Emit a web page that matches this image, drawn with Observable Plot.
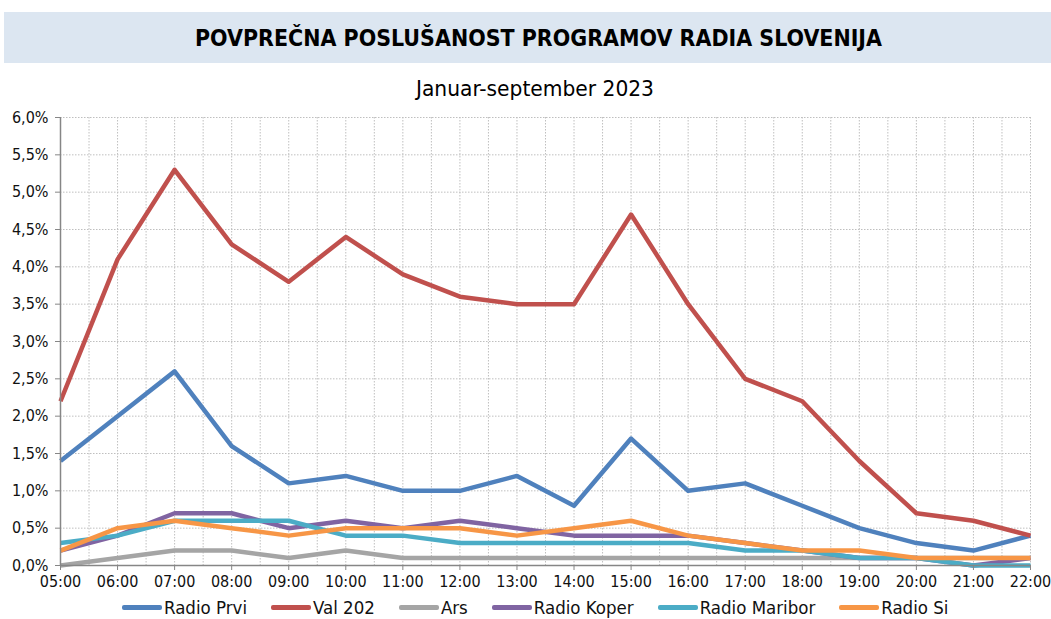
<!DOCTYPE html>
<html>
<head>
<meta charset="utf-8">
<script src="https://cdn.jsdelivr.net/npm/d3@7"></script>
<script src="https://cdn.jsdelivr.net/npm/@observablehq/plot@0.6"></script>
<style>
  body { margin: 0; background: #fff; font-family: "DejaVu Sans Condensed", "DejaVu Sans", sans-serif; color: #111; }
  #wrap { position: relative; width: 1051px; height: 619px; overflow: hidden; }
  #band { position: absolute; left: 4px; top: 12px; width: 1047px; height: 51px; background: #dce6f1; }
  .fit { position: absolute; white-space: nowrap; transform-origin: 0 50%; }
  #title { font-weight: bold; font-size: 23px; color: #000; }
  #subtitle { font-size: 21.5px; color: #000; }
  #chart { position: absolute; left: 0; top: 100px; }
  #legend { position: absolute; left: 122px; top: 597px; display: flex; align-items: center; font-size: 18.5px; color: #111; }
  .item { display: flex; align-items: center; }
  .sw { width: 40px; height: 4.5px; border-radius: 2px; margin-right: 2px; }
</style>
</head>
<body>
<div id="wrap">
  <div id="band"></div>
  <div id="title" class="fit">POVPREČNA POSLUŠANOST PROGRAMOV RADIA SLOVENIJA</div>
  <div id="subtitle" class="fit">Januar-september 2023</div>
  <div id="chart"></div>
  <div id="legend"></div>
</div>
<script>
const hours = [5, 6, 7, 8, 9, 10, 11, 12, 13, 14, 15, 16, 17, 18, 19, 20, 21, 22];
const seriesNames = ["Radio Prvi", "Val 202", "Ars", "Radio Koper", "Radio Maribor", "Radio Si"];
const seriesColors = ["#4f81bd", "#c0504d", "#a5a5a5", "#8064a2", "#4bacc6", "#f79646"];

const radioPrvi   = [1.4, 2.0, 2.6, 1.6, 1.1, 1.2, 1.0, 1.0, 1.2, 0.8, 1.7, 1.0, 1.1, 0.8, 0.5, 0.3, 0.2, 0.4];
const val202      = [2.2, 4.1, 5.3, 4.3, 3.8, 4.4, 3.9, 3.6, 3.5, 3.5, 4.7, 3.5, 2.5, 2.2, 1.4, 0.7, 0.6, 0.4];
const ars         = [0.0, 0.1, 0.2, 0.2, 0.1, 0.2, 0.1, 0.1, 0.1, 0.1, 0.1, 0.1, 0.1, 0.1, 0.1, 0.1, 0.1, 0.1];
const radioKoper  = [0.2, 0.4, 0.7, 0.7, 0.5, 0.6, 0.5, 0.6, 0.5, 0.4, 0.4, 0.4, 0.3, 0.2, 0.1, 0.1, 0.0, 0.1];
const radioMaribor= [0.3, 0.4, 0.6, 0.6, 0.6, 0.4, 0.4, 0.3, 0.3, 0.3, 0.3, 0.3, 0.2, 0.2, 0.1, 0.1, 0.0, 0.0];
const radioSi     = [0.2, 0.5, 0.6, 0.5, 0.4, 0.5, 0.5, 0.5, 0.4, 0.5, 0.6, 0.4, 0.3, 0.2, 0.2, 0.1, 0.1, 0.1];

const yTicks = [0, 0.5, 1, 1.5, 2, 2.5, 3, 3.5, 4, 4.5, 5, 5.5, 6];
const xGridHalf = d3.range(5, 22.01, 0.5);

const seriesValues = [radioPrvi, val202, ars, radioKoper, radioMaribor, radioSi];
const data = [];
seriesNames.forEach((name, i) => {
  hours.forEach((h, j) => data.push({series: name, hour: h, value: seriesValues[i][j]}));
});

const fmtHour = h => String(h).padStart(2, "0") + ":00";
const fmtPct = v => v.toFixed(1).replace(".", ",") + "%";
const axisColor = "#868686";
const gridStyle = {stroke: "#bfbfbf", strokeOpacity: 1, strokeDasharray: "1.5,1.5", strokeWidth: 1};

const chart = Plot.plot({
  width: 1051,
  height: 490,
  marginLeft: 60,
  marginRight: 21,
  marginTop: 17,
  marginBottom: 25,
  style: {fontFamily: '"DejaVu Sans Condensed", "DejaVu Sans", sans-serif', fontSize: "16px", color: "#111", background: "transparent"},
  x: {domain: [5, 22]},
  y: {domain: [0, 6]},
  color: {domain: seriesNames, range: seriesColors},
  marks: [
    Plot.gridX(xGridHalf, gridStyle),
    Plot.gridY(yTicks, gridStyle),
    Plot.line(data, {x: "hour", y: "value", z: "series", stroke: "series", strokeWidth: 4.5, strokeLinejoin: "round", strokeLinecap: "butt"}),
    Plot.ruleX([5], {stroke: axisColor, strokeWidth: 1.5}),
    Plot.ruleY([0], {stroke: axisColor, strokeWidth: 1.5}),
    Plot.axisX(hours, {tickSize: 5, tickPadding: 5, stroke: axisColor, fill: "#111", tickFormat: fmtHour, label: null, fontSize: 16}),
    Plot.axisY(yTicks, {tickSize: 5, tickPadding: 7, stroke: axisColor, fill: "#111", tickFormat: fmtPct, label: null, fontSize: 16})
  ]
});
document.getElementById("chart").appendChild(chart);

// legend
const legend = document.getElementById("legend");
const gaps = [24, 24, 24, 24, 24, 0];
seriesNames.forEach((name, i) => {
  const item = document.createElement("div");
  item.className = "item";
  item.style.marginRight = gaps[i] + "px";
  const sw = document.createElement("div");
  sw.className = "sw";
  sw.style.background = seriesColors[i];
  const t = document.createElement("span");
  t.textContent = name;
  item.appendChild(sw); item.appendChild(t);
  legend.appendChild(item);
});

// fit title texts to target widths
function fit(id, left, width, centerY) {
  const el = document.getElementById(id);
  const w = el.getBoundingClientRect().width;
  const h = el.getBoundingClientRect().height;
  el.style.left = left + "px";
  el.style.top = (centerY - h / 2) + "px";
  el.style.transform = "scaleX(" + (width / w) + ")";
}
fit("title", 195, 687, 38);
fit("subtitle", 416, 238, 88);
</script>
</body>
</html>
